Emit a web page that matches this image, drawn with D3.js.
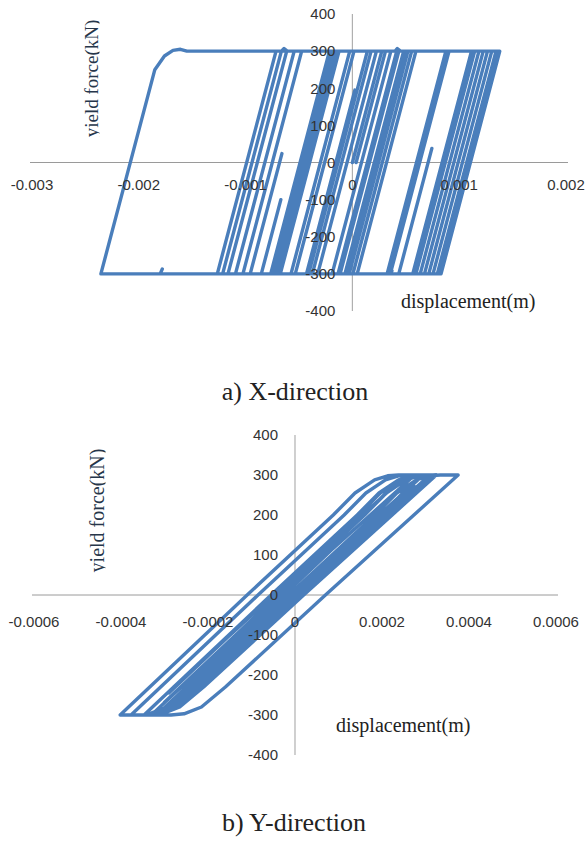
<!DOCTYPE html>
<html>
<head>
<meta charset="utf-8">
<script src="https://cdn.jsdelivr.net/npm/d3@7"></script>
<style>
  body { margin: 0; background: #fff; }
  svg { display: block; }
  .tick-label { font-family: "Liberation Sans", Arial, sans-serif; font-size: 15px; fill: #333; }
  .axis-title { font-family: "Liberation Serif", "Times New Roman", serif; fill: #222; }
  .caption { font-family: "Liberation Serif", "Times New Roman", serif; font-size: 26px; fill: #222; }
</style>
</head>
<body>
<svg width="585" height="845"></svg>
<script>
// X-direction: displacement (m), yield force (kN)
var xTicksX = [-0.003, -0.002, -0.001, 0, 0.001, 0.002];
var yTicks = [400, 300, 200, 100, 0, -100, -200, -300, -400];
var loopX = [
  [0, 0], [0.000275, 300], [0.000595, 300], [0.000045, -300],
  [-0.00041, -300], [0.00014, 300], [0.000875, 300], [0.000325, -300],
  [-0.000325, -300], [0.000225, 300], [0.0004, 300], [0.00042, 307], [0.00045, 300],
  [0.00138, 300], [0.00083, -300],
  [-0.001265, -300], [-0.000715, 300], [0.001185, 300], [0.000635, -300],
  [-0.000765, -300], [-0.000215, 300], [0.001345, 300], [0.000795, -300],
  [-0.0018, -300], [-0.00178, -287], [-0.0018, -300],
  [-0.002355, -300], [-0.00185, 250], [-0.00176, 287], [-0.00168, 302], [-0.00161, 305], [-0.00155, 300],
  [0.001375, 300], [0.000825, -300],
  [0.00035, -300], [0.00037, -292], [0.00035, -300],
  [-0.001215, -300], [-0.000665, 300], [-0.00064, 307], [-0.00061, 300],
  [0.001305, 300], [0.000755, -300],
  [-0.001165, -300], [-0.000615, 300], [0.001265, 300], [0.000715, -300],
  [-0.000957, -300], [-0.00066, 24], [-0.000957, -300],
  [-0.001095, -300], [-0.000545, 300], [0.001225, 300], [0.000675, -300],
  [-0.000853, -300], [-0.00067, -100], [-0.000853, -300],
  [-0.001025, -300], [-0.000475, 300], [0.001145, 300], [0.000595, -300],
  [0.000434, -300], [0.000744, 38], [0.000434, -300],
  [-0.000735, -300], [-0.000185, 300], [0.001115, 300], [0.000565, -300],
  [-0.000715, -300], [-0.000165, 300], [0.000905, 300], [0.000355, -300],
  [-0.00043, -300], [0.000023, 195], [-0.00043, -300],
  [-0.000675, -300], [-0.000125, 300], [0.000555, 300], [0.000005, -300],
  [-0.000575, -300], [-0.000025, 300], [0.000505, 300], [-0.000045, -300],
  [-0.000535, -300], [0.000015, 300], [0.000435, 300], [-0.000115, -300],
  [-0.000375, -300], [0.000175, 300], [0.000415, 300], [-0.000135, -300],
  [-0.000325, -300], [0.000225, 300], [0.00048, 300], [-0.00007, -300],
  [-0.000745, -300], [-0.000195, 300], [0.00052, 300], [-0.00003, -300],
  [-0.00072, -300], [-0.00017, 300], [0.00036, 300], [-0.00019, -300],
  [-0.000695, -300], [-0.000145, 300], [0.00031, 300], [0.000035, 0]
];

// Y-direction
var xTicksY = [-0.0006, -0.0004, -0.0002, 0, 0.0002, 0.0004, 0.0006];
var loopY = [
  [0, 0], [0.000198, 200], [0.000248, 255], [0.000274, 272],
  [-0.000003, 0], [-0.000233, -230], [-0.000287, -280],
  [-0.000014, 0], [0.000184, 200], [0.000234, 255], [0.000279, 288], [0.000309, 298], [0.000334, 300],
  [0.000375, 300], [0.00007, 0], [-0.00016, -230], [-0.000215, -280], [-0.000255, -297], [-0.000285, -300],
  [-0.000402, -300], [-0.00011, 0], [0.000088, 200], [0.000138, 255], [0.000183, 288], [0.000213, 298], [0.000238, 300],
  [0.000317, 300], [0.000012, 0], [-0.000218, -230], [-0.000273, -280], [-0.000313, -297], [-0.000343, -300],
  [-0.000377, -300], [-0.000085, 0], [0.000113, 200], [0.000163, 255], [0.000208, 288], [0.000238, 298], [0.000263, 300],
  [0.000295, 300], [-0.00001, 0], [-0.00024, -230], [-0.000295, -280], [-0.000335, -297], [-0.000347, -300],
  [-0.000055, 0], [0.000143, 200], [0.000193, 255], [0.000238, 288], [0.000274, 299],
  [-0.000031, 0], [-0.000261, -230], [-0.0003, -268],
  [-0.000039, 0], [0.000159, 200], [0.000209, 255], [0.000231, 275],
  [-0.000049, 0], [-0.000279, -230], [-0.00029, -245],
  [-0.000052, 0], [0.000146, 200], [0.000196, 255], [0.000241, 288], [0.000271, 298], [0.000296, 300], [0.000325, 300],
  [0.00002, 0], [-0.00021, -230], [-0.000265, -280], [-0.0003, -295], [-0.00032, -300], [-0.00033, -300],
  [-0.000038, 0], [0.00016, 200], [0.00021, 255], [0.000255, 288], [0.000285, 298], [0.00031, 300],
  [0.000005, 0], [-0.000225, -230], [-0.00028, -280], [-0.00031, -292],
  [-0.000025, 0], [0.00012, 150]
];

var svg = d3.select("svg");
var lineColor = "#4a7ebb";

function drawChart(cfg) {
  var x = d3.scaleLinear().domain(cfg.xDomain).range(cfg.xRange);
  var y = d3.scaleLinear().domain([-400, 400]).range(cfg.yRange);
  var g = svg.append("g");

  // axes through the origin, no tick marks
  g.append("line")
    .attr("x1", cfg.xRange[0] - 2).attr("x2", cfg.xRange[1] + 2)
    .attr("y1", y(0)).attr("y2", y(0))
    .attr("stroke", "#9a9a9a").attr("stroke-width", 1);
  g.append("line")
    .attr("x1", x(0)).attr("x2", x(0))
    .attr("y1", y(400)).attr("y2", y(-400))
    .attr("stroke", "#b0b0b0").attr("stroke-width", 1.2);

  var line = d3.line()
    .x(function(d) { return x(d[0]); })
    .y(function(d) { return y(d[1]); });

  g.append("path")
    .datum(cfg.data)
    .attr("d", line)
    .attr("fill", "none")
    .attr("stroke", lineColor)
    .attr("stroke-width", 3.4)
    .attr("stroke-linejoin", "round")
    .attr("stroke-linecap", "round");

  g.selectAll(".xl")
    .data(cfg.xTicks)
    .enter().append("text")
    .attr("class", "tick-label")
    .attr("x", function(d) { return x(d); })
    .attr("y", y(0) + cfg.xLabelOffset)
    .attr("text-anchor", "middle")
    .text(function(d) { return d === 0 ? "0" : String(d); });

  g.selectAll(".yl")
    .data(yTicks)
    .enter().append("text")
    .attr("class", "tick-label")
    .attr("x", x(0) - cfg.yLabelGap)
    .attr("y", function(d) { return y(d); })
    .attr("dy", "0.35em")
    .attr("text-anchor", "end")
    .text(function(d) { return d; });

  // y title, descender of the "y" cut off as in the source image
  var clipId = "clip" + cfg.id;
  svg.append("defs").append("clipPath").attr("id", clipId)
    .append("rect")
    .attr("x", 0).attr("y", 0)
    .attr("width", cfg.yTitle[0] + 1.5).attr("height", 845);
  g.append("g")
    .attr("clip-path", "url(#" + clipId + ")")
    .append("text")
    .attr("class", "axis-title")
    .attr("transform", "translate(" + cfg.yTitle[0] + "," + cfg.yTitle[1] + ") rotate(-90)")
    .attr("text-anchor", "middle")
    .style("font-size", cfg.yTitleSize + "px")
    .style("fill", "#26364a")
    .text("yield force(kN)");

  g.append("text")
    .attr("class", "axis-title")
    .attr("x", cfg.xTitle[0]).attr("y", cfg.xTitle[1])
    .style("font-size", "20px")
    .text("displacement(m)");

  g.append("text")
    .attr("class", "caption")
    .attr("x", cfg.caption[0]).attr("y", cfg.caption[1])
    .attr("text-anchor", "middle")
    .text(cfg.captionText);
}

drawChart({
  id: "a",
  data: loopX,
  xTicks: xTicksX,
  xDomain: [-0.003, 0.002], xRange: [32, 566],
  yRange: [311, 14],
  xLabelOffset: 27, yLabelGap: 17,
  yTitle: [98, 78.5], yTitleSize: 19,
  xTitle: [401, 308],
  caption: [295, 400], captionText: "a) X-direction"
});

drawChart({
  id: "b",
  data: loopY,
  xTicks: xTicksY,
  xDomain: [-0.0006, 0.0006], xRange: [34, 556],
  yRange: [755, 435],
  xLabelOffset: 32, yLabelGap: 17,
  yTitle: [104, 510.5], yTitleSize: 20,
  xTitle: [336, 732],
  caption: [294, 831], captionText: "b) Y-direction"
});
</script>
</body>
</html>
